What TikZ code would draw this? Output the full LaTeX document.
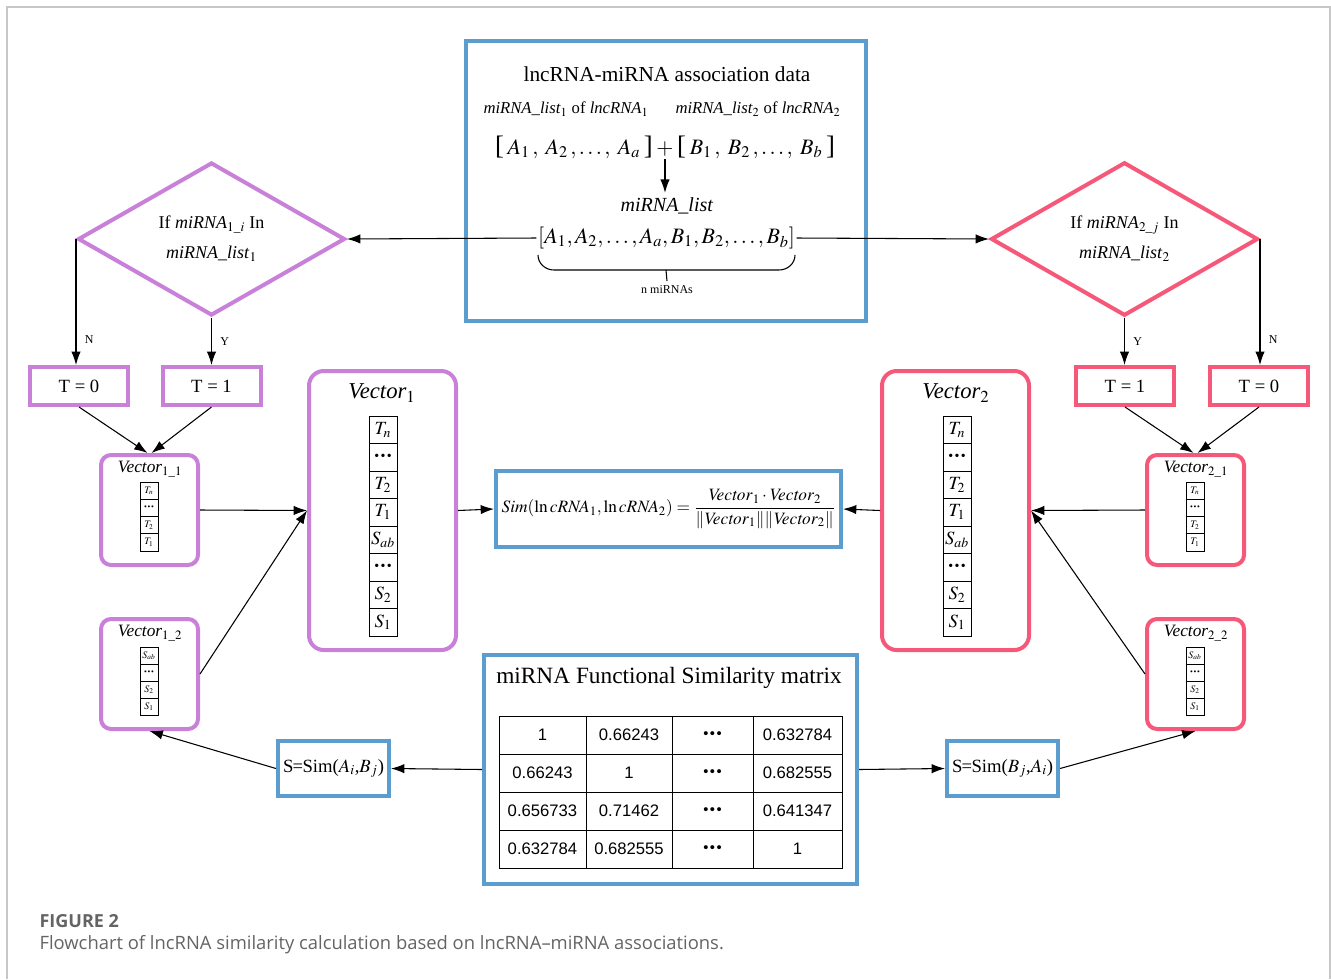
\documentclass[tikz,border=0pt]{standalone}
\usepackage{amsmath}
\usepackage{mathptmx}
\usepackage{fontspec}
\setmainfont{Liberation Serif}
\newfontfamily\capfont{Open Sans}
\newfontfamily\numfont{Liberation Sans}
\usetikzlibrary{arrows.meta,shapes.geometric}
\definecolor{frblue}{RGB}{91,157,207}
\definecolor{frpurple}{RGB}{200,128,216}
\definecolor{frpink}{RGB}{246,88,122}
\definecolor{capgray}{RGB}{100,100,100}
\newcommand{\bdots}[1]{{\fontsize{#1}{#1}\selectfont\textbullet\kern.1em\textbullet\kern.1em\textbullet}}
\newcommand{\bigbr}[1]{{\fontsize{20}{20}\selectfont #1}}

\begin{document}
\begin{tikzpicture}[x=0.75pt,y=-0.75pt,line width=0.8pt,>={Latex[length=10pt,width=7pt]},
    txt/.style={font=\fontsize{#1}{#1}\selectfont},
    bluebox/.style={draw=frblue,line width=3pt,inner sep=0pt},
    purbox/.style={draw=frpurple,line width=3pt,inner sep=0pt},
    pinkbox/.style={draw=frpink,line width=3pt,inner sep=0pt},
    dia/.style={diamond,line width=3pt,minimum width=200.25pt,minimum height=114.75pt,
        inner sep=0pt,align=center,txt=13.5},
    tbox/.style={minimum width=73.5pt,minimum height=28.5pt,txt=14},
    bigvec/.style={rounded corners=11pt,minimum width=110.25pt,minimum height=209.25pt},
    smallvec/.style={rounded corners=7.5pt,minimum width=72.75pt,minimum height=82.5pt},
    bigcell/.style={draw,line width=0.6pt,minimum width=21pt,minimum height=20.6pt,inner sep=0pt,txt=14},
    smallcell/.style={draw,line width=0.5pt,minimum width=13.5pt,minimum height=12.8pt,inner sep=0pt,txt=7.5},
    tcell/.style={draw,line width=0.6pt,minimum height=28.5pt,inner sep=0pt,font=\numfont\fontsize{12.5}{12.5}\selectfont},
    yn/.style={txt=9}]
\useasboundingbox (0,0) rectangle (1331,979);

% outer frame
\draw[black!22,line width=1.2pt] (7,979) -- (7,7) -- (1330,7) -- (1330,979);

% association data
\node[bluebox,minimum width=300pt,minimum height=210pt] (data) at (666,181) {};
\node[txt=16] (dtitle) at (667,74) {lncRNA-miRNA association data};
\node[txt=12.5,inner sep=0pt] (lista) at (566,109) {\textit{miRNA\_list}$_1$ of \textit{lncRNA}$_1$};
\node[txt=12.5,inner sep=0pt] (listb) at (758,109) {\textit{miRNA\_list}$_2$ of \textit{lncRNA}$_2$};
\node[txt=16.5,inner sep=0pt] (brk) at (665,147)
    {\bigbr{[}\,$A_1\,,\;A_2\,,\ldots,\;A_a$\,\bigbr{]}\,$+$\,\bigbr{[}\,$B_1\,,\;B_2\,,\ldots,\;B_b$\,\bigbr{]}};
\node[txt=15] (mlist) at (667,206) {\textit{miRNA\_list}};
\node[txt=16.5,inner sep=1pt] (full) at (666.5,238) {$[A_1, A_2, \ldots, A_a, B_1, B_2, \ldots, B_b]$};
\node[txt=9] (nmi) at (667,290) {n miRNAs};
\draw[->] (brk.south) -- (brk.south |- mlist.north);
\draw (538,255) to[out=-90,in=180] (554,270) -- (779,270) to[out=0,in=-90] (795,255);
\draw (666,270) -- (nmi.north);

% decisions
\node[dia,draw=frpurple] (ldia) at (211.5,239)
    {If \textit{miRNA}$_{1\_i}$ In\\[9pt]\textit{miRNA\_list}$_1$};
\node[dia,draw=frpink] (rdia) at (1124.5,239)
    {If \textit{miRNA}$_{2\_j}$ In\\[9pt]\textit{miRNA\_list}$_2$};
\draw[->] (full.west) -- (ldia.east);
\draw[->] (full.east) -- (rdia.west);

\node[purbox,tbox] (lt0) at (79,386) {T = 0};
\node[purbox,tbox] (lt1) at (211.5,386) {T = 1};
\node[pinkbox,tbox] (rt1) at (1125,386) {T = 1};
\node[pinkbox,tbox] (rt0) at (1259,386) {T = 0};
\draw[->] (ldia.west) -- (ldia.west |- lt0.north) node[yn,pos=0.8,right=3pt] {N};
\draw[->] (ldia.south) -- (lt1.north) node[yn,pos=0.5,right=3pt] {Y};
\draw[->] (rdia.south) -- (rdia.south |- rt1.north) node[yn,pos=0.5,right=3pt] {Y};
\draw[->] (rdia.east) -- (rdia.east |- rt0.north) node[yn,pos=0.8,right=3pt] {N};

% small vectors
\node[purbox,smallvec] (v11) at (149.5,510) {};
\node[purbox,smallvec] (v12) at (149.5,674) {};
\node[pinkbox,smallvec] (v21) at (1195.5,510) {};
\node[pinkbox,smallvec] (v22) at (1195.5,674) {};
\node[txt=13] (v11t) at (150,469) {\textit{Vector}$_{1\_1}$};
\node[txt=13] (v12t) at (150,633) {\textit{Vector}$_{1\_2}$};
\node[txt=13] (v21t) at (1196,469) {\textit{Vector}$_{2\_1}$};
\node[txt=13] (v22t) at (1196,633) {\textit{Vector}$_{2\_2}$};
\foreach \lab [count=\k] in {$T_n$,\bdots{6},$T_2$,$T_1$}{
    \node[smallcell] (a\k) at (149,{473.5+17.2*\k}) {\lab};
    \node[smallcell] (b\k) at (1195,{473.5+17.2*\k}) {\lab};
}
\foreach \lab [count=\k] in {$S_{ab}$,\bdots{6},$S_2$,$S_1$}{
    \node[smallcell] (c\k) at (149,{638.5+17*\k}) {\lab};
    \node[smallcell] (d\k) at (1195,{638.5+17*\k}) {\lab};
}

% big vectors
\node[purbox,bigvec] (vone) at (382.5,510.5) {};
\node[pinkbox,bigvec] (vtwo) at (955.5,510.5) {};
\node[txt=17] (vonet) at (382,393) {\textit{Vector}$_1$};
\node[txt=17] (vtwot) at (956,393) {\textit{Vector}$_2$};
\foreach \lab [count=\k] in {$T_n$,\bdots{10.5},$T_2$,$T_1$,$S_{ab}$,\bdots{10.5},$S_2$,$S_1$}{
    \node[bigcell] (p\k) at (383,{402.25+27.5*\k}) {\lab};
    \node[bigcell] (q\k) at (957,{402.25+27.5*\k}) {\lab};
}
\draw[->] (v11.east) -- (vone.west);
\draw[->] (v12.east) -- (vone.west);
\draw[->] (v21.west) -- (vtwo.east);
\draw[->] (v22.west) -- (vtwo.east);
\draw[->] (lt0.south) -- ([xshift=-1.5pt]v11.north);
\draw[->] (lt1.south) -- ([xshift=1.5pt]v11.north);
\draw[->] (rt1.south) -- ([xshift=-1.5pt]v21.north);
\draw[->] (rt0.south) -- ([xshift=1.5pt]v21.north);

% similarity
\node[bluebox,minimum width=258.75pt,minimum height=57pt,txt=13] (sim) at (668.5,509)
    {$\mathit{Sim}(\ln \mathit{cRNA}_1,\ln \mathit{cRNA}_2)=\dfrac{\mathit{Vector}_1\cdot\mathit{Vector}_2}{\lVert\mathit{Vector}_1\rVert\lVert\mathit{Vector}_2\rVert}$};
\draw[->] (vone.east) -- (sim.west);
\draw[->] (vtwo.west) -- (sim.east);

% functional similarity matrix
\node[bluebox,minimum width=279.75pt,minimum height=171.75pt] (mat) at (670.5,769.5) {};
\node[txt=17.5] (mtitle) at (669,678) {miRNA Functional Similarity matrix};
\foreach \ca/\cb/\cd [count=\r] in {1/0.66243/0.632784,0.66243/1/0.682555,
        0.656733/0.71462/0.641347,0.632784/0.682555/1}{
    \node[tcell,minimum width=65.25pt] (m\r-1) at (542.5,{697+38*\r}) {\ca};
    \node[tcell,minimum width=64.5pt] (m\r-2) at (629,{697+38*\r}) {\cb};
    \node[tcell,minimum width=60.75pt] (m\r-3) at (712.5,{697+38*\r}) {\bdots{11}};
    \node[tcell,minimum width=66.75pt] (m\r-4) at (797.5,{697+38*\r}) {\cd};
}
\node[bluebox,minimum width=83.25pt,minimum height=41.25pt,txt=14] (sl) at (333.5,768.5)
    {S\kern-0.5pt=\kern-0.5pt Sim($A_i$,$B_j$)};
\node[bluebox,minimum width=83.25pt,minimum height=41.25pt,txt=14] (sr) at (1002.5,768.5)
    {S\kern-0.5pt=\kern-0.5pt Sim($B_j$,$A_i$)};
\draw[->] (mat.west) -- (sl.east);
\draw[->] (mat.east) -- (sr.west);
\draw[->] (sl.west) -- (v12.south);
\draw[->] (sr.east) -- (v22.south);

% caption
\node[anchor=west,inner sep=0pt,text=capgray,font=\capfont\bfseries\fontsize{13.5}{13.5}\selectfont]
    (fig) at (39,921) {FIGURE 2};
\node[anchor=west,inner sep=0pt,text=capgray,font=\capfont\fontsize{13.8}{13.8}\selectfont]
    (cap) at (39,945) {Flowchart of lncRNA similarity calculation based on lncRNA–miRNA associations.};
\end{tikzpicture}
\end{document}
